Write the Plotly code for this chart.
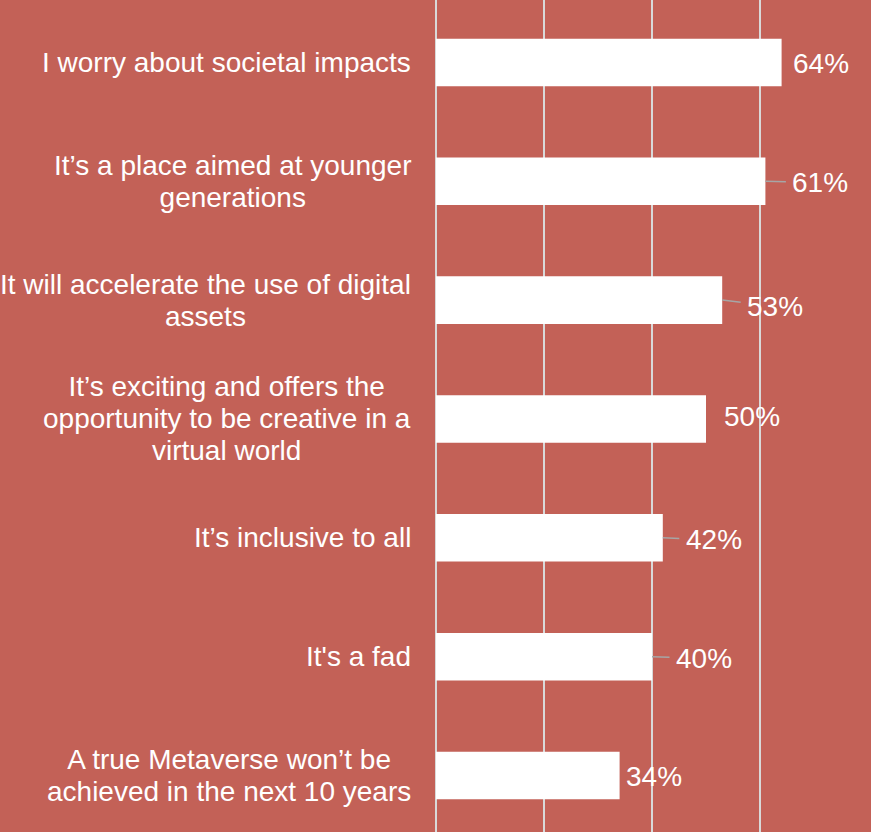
import plotly.graph_objects as go

# Survey statements (top to bottom) and share of respondents agreeing (%)
statements = [
    "I worry about societal impacts",
    "It’s a place aimed at younger\ngenerations",
    "It will accelerate the use of digital\nassets",
    "It’s exciting and offers the\nopportunity to be creative in a\nvirtual world",
    "It’s inclusive to all",
    "It's a fad",
    "A true Metaverse won’t be\nachieved in the next 10 years",
]
shares = [64, 61, 53, 50, 42, 40, 34]

# Data-label placement (pixel offsets from bar end) and whether a leader line is shown
label_dx = [39, 55, 53, 46, 51, 52, 34]
label_dy = [1, 1, 6, -2, 2, 2, 1]
leader = [False, True, True, False, True, True, False]

BG = "#C36157"
FONT = "Arial, Liberation Sans, sans-serif"
TXT = 28            # text size in px
LINE_GAP = 32.2     # baseline-to-baseline distance for wrapped labels

fig = go.Figure(
    go.Bar(
        x=shares,
        y=list(range(len(statements))),
        orientation="h",
        marker=dict(color="white", line=dict(width=0)),
        hoverinfo="skip",
    )
)

annotations = []
for i, (s, v) in enumerate(zip(statements, shares)):
    lines = s.split("\n")
    text = "<br>".join(f'<span style="font-size:{TXT}px">{ln}</span>' for ln in lines)
    annotations.append(
        dict(
            x=0, y=i, xref="x", yref="y",
            text=text, showarrow=False,
            xanchor="right", yanchor="middle", align="center",
            xshift=-23,
            font=dict(family=FONT, size=LINE_GAP / 1.3, color="white"),
        )
    )
    annotations.append(
        dict(
            x=v, y=i, xref="x", yref="y",
            text=f"{v}%",
            showarrow=True, arrowhead=0, arrowwidth=1.5, standoff=0,
            arrowcolor="#A6A6A6" if leader[i] else "rgba(0,0,0,0)",
            axref="pixel", ayref="pixel",
            ax=label_dx[i], ay=label_dy[i],
            borderpad=6, borderwidth=1, bordercolor="rgba(0,0,0,0)",
            font=dict(family=FONT, size=TXT, color="white"),
        )
    )

fig.update_layout(
    width=871,
    height=832,
    margin=dict(l=436, r=3, t=0, b=0, pad=0),
    paper_bgcolor=BG,
    plot_bgcolor=BG,
    bargap=0.6,
    showlegend=False,
    annotations=annotations,
    xaxis=dict(
        range=[0, 80],
        tick0=0, dtick=20,
        showgrid=True, gridcolor="#D9D9D9", gridwidth=1.5,
        zeroline=True, zerolinecolor="#D9D9D9", zerolinewidth=1.5,
        showticklabels=False, ticks="",
        showline=False,
    ),
    yaxis=dict(
        range=[len(statements) - 0.525, -0.525],
        showticklabels=False, ticks="",
        showgrid=False, zeroline=False, showline=False,
    ),
)

fig.write_html("out.html")
